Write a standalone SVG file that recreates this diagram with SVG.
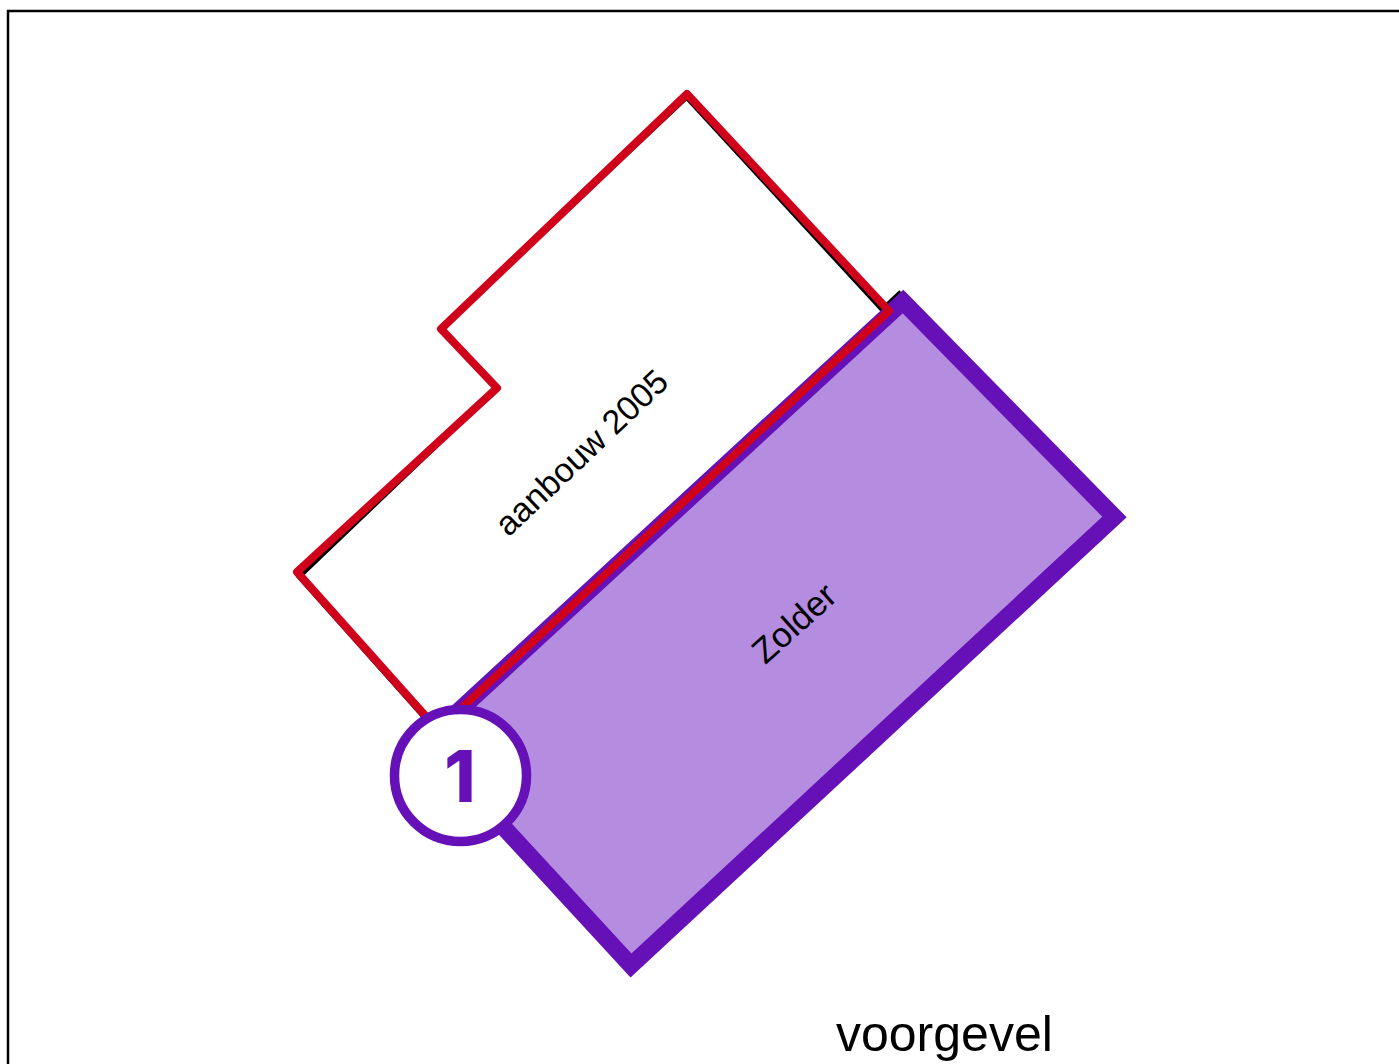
<svg xmlns="http://www.w3.org/2000/svg" width="1399" height="1064" viewBox="0 0 1399 1064">
<style>
.lbl{font-family:"Liberation Sans",Arial,sans-serif;fill:#000}
.out{fill:none;stroke-linejoin:miter}
</style>
<rect width="1399" height="1064" fill="#fff"/>
<path id="frame" d="M8 1064V11H1399" fill="none" stroke="#000" stroke-width="2.5"/>
<g id="aanbouw-outline">
<path class="out" d="M686.500 97.500L885 313L438 733L299 577L497 388L441 329Z" stroke="#000" stroke-width="4.500"/>
<path class="out" d="M884 308L901 292" stroke="#000" stroke-width="5"/>
</g>
<g id="zolder">
<path d="M903 301.500L1114.500 517L631 965.500L425 742Z" fill="#b48ce0" stroke="#6610b8" stroke-width="17"/>
</g>
<g id="aanbouw">
<path d="M687 94L889 311L438 730L297 572L497 388L441 329Z" fill="none" stroke="#d0021b" stroke-width="8" stroke-linejoin="round"/>
<text class="lbl" font-size="34" text-anchor="middle" transform="translate(589.500 461) rotate(-43.500)">aanbouw 2005</text>
</g>
<text id="zolder-label" class="lbl" font-size="35" text-anchor="middle" transform="translate(802 632) rotate(-42)">Zolder</text>
<g id="badge">
<circle cx="460.500" cy="775.500" r="66" fill="#fff" stroke="#6610b8" stroke-width="9.500"/>
<text x="460" y="802" font-family="Inter,sans-serif" font-weight="800" font-size="71" fill="#6610b8" text-anchor="middle">1</text>
</g>
<text id="voorgevel" class="lbl" font-size="50" x="836" y="1051">voorgevel</text>
</svg>
